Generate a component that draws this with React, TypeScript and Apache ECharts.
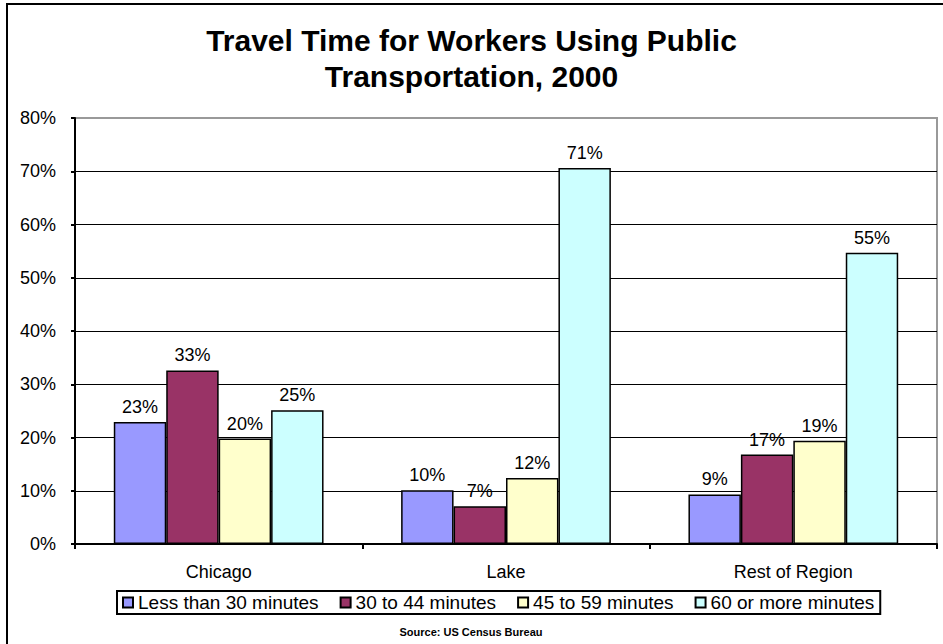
import React, { useEffect, useRef } from "react";
import * as echarts from "echarts";

const categories = ["Chicago", "Lake", "Rest of Region"];
const seriesNames = ["Less than 30 minutes", "30 to 44 minutes", "45 to 59 minutes", "60 or more minutes"];
const lessThan30 = [22.9, 10.1, 9.3];
const from30to44 = [32.6, 7.1, 16.8];
const from45to59 = [19.8, 12.4, 19.4];
const sixtyPlus = [25.1, 70.6, 54.7];
const colors = ["#9999FF", "#993366", "#FFFFCC", "#CCFFFF"];
const titleText = "Travel Time for Workers Using Public\nTransportation, 2000";
const sourceText = "Source: US Census Bureau";

const FONT = "Liberation Sans, Arial, sans-serif";

export default function App() {
  const ref = useRef<HTMLDivElement>(null);
  useEffect(() => {
    document.body.style.margin = "0";
    const chart = echarts.init(ref.current!, null, { renderer: "svg" });
    const values = [lessThan30, from30to44, from45to59, sixtyPlus];
    chart.setOption({
      animation: false,
      backgroundColor: "#fff",
      textStyle: { fontFamily: FONT },
      title: {
        text: titleText,
        left: "center",
        top: 17,
        textStyle: { fontFamily: FONT, fontSize: 30, fontWeight: "bold", color: "#000", lineHeight: 36 },
      },
      graphic: [
        {
          type: "rect",
          shape: { x: 7, y: 4, width: 960, height: 700 },
          style: { fill: "none", stroke: "#000", lineWidth: 2 },
          silent: true,
        },
        {
          type: "text",
          x: 471,
          y: 632,
          style: {
            text: sourceText,
            fontFamily: FONT,
            fontSize: 11,
            fontWeight: "bold",
            fill: "#000",
            align: "center",
            verticalAlign: "middle",
          },
        },
      ],
      legend: {
        data: seriesNames,
        top: 591,
        left: 117,
        itemWidth: 10,
        itemHeight: 10,
        itemGap: 21,
        borderColor: "#000",
        borderWidth: 2,
        borderRadius: 0,
        padding: [2, 6, 2, 5],
        textStyle: { fontFamily: FONT, fontSize: 19, color: "#000", padding: [0, 0, 0, 0] },
        icon: "rect",
      },
      grid: {
        left: 75,
        right: 6,
        top: 118,
        bottom: 100,
        show: true,
        borderColor: "#999",
        borderWidth: 2,
        containLabel: false,
      },
      xAxis: {
        type: "category",
        data: categories,
        axisLine: { lineStyle: { color: "#000", width: 2 } },
        axisTick: { show: true, length: 5, lineStyle: { color: "#000", width: 2 } },
        axisLabel: { fontFamily: FONT, fontSize: 18, color: "#000", margin: 19 },
      },
      yAxis: {
        type: "value",
        min: 0,
        max: 80,
        interval: 10,
        axisLine: { show: true, lineStyle: { color: "#000", width: 2 } },
        axisTick: { show: true, length: 4, lineStyle: { color: "#000", width: 2 } },
        axisLabel: { fontFamily: FONT, fontSize: 18, color: "#000", margin: 19, formatter: "{value}%" },
        splitLine: {
          show: true,
          lineStyle: { color: ["#000", "#000", "#000", "#000", "#000", "#000", "#000", "#000", "#999"], width: 1 },
        },
      },
      series: seriesNames.map((name, i) => ({
        name,
        type: "bar",
        data: values[i],
        barGap: "0%",
        barCategoryGap: "27%",
        itemStyle: { color: colors[i], borderColor: "#000", borderWidth: 1.5 },
        label: {
          show: true,
          position: "top",
          distance: 6,
          fontFamily: FONT,
          fontSize: 18,
          color: "#000",
          formatter: (p: any) => `${Math.round(p.value)}%`,
        },
      })),
    });
    return () => chart.dispose();
  }, []);
  return <div ref={ref} style={{ width: 943, height: 644 }} />;
}
